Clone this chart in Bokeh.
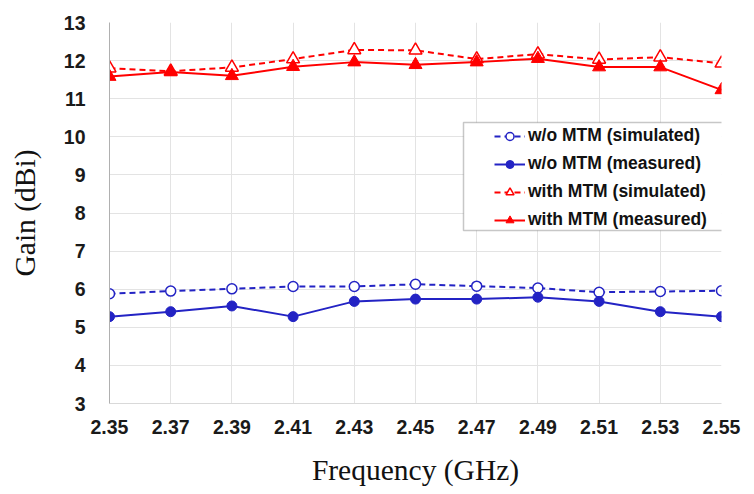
from bokeh.plotting import figure
from bokeh.models import Range1d, Legend, LegendItem, BoxAnnotation, FixedTicker
from bokeh.embed import file_html
from bokeh.resources import INLINE

freq = [2.35, 2.37, 2.39, 2.41, 2.43, 2.45, 2.47, 2.49, 2.51, 2.53, 2.55]
freq_labels = ["2.35", "2.37", "2.39", "2.41", "2.43", "2.45", "2.47", "2.49", "2.51", "2.53", "2.55"]
wo_sim = [5.88, 5.95, 6.01, 6.07, 6.07, 6.13, 6.08, 6.03, 5.92, 5.94, 5.96]
wo_meas = [5.28, 5.41, 5.56, 5.28, 5.68, 5.74, 5.74, 5.79, 5.68, 5.41, 5.28]
with_sim = [11.80, 11.72, 11.82, 12.04, 12.28, 12.27, 12.04, 12.17, 12.03, 12.09, 11.93]
with_meas = [11.58, 11.70, 11.60, 11.84, 11.96, 11.89, 11.96, 12.05, 11.83, 11.83, 11.23]
y_ticks = [3, 4, 5, 6, 7, 8, 9, 10, 11, 12, 13]

BLUE = "#2323C4"
RED = "#FF0000"

p = figure(width=754, height=494, output_backend="svg", toolbar_location=None,
           x_range=Range1d(2.35, 2.55), y_range=Range1d(3, 13))
p.min_border_left = 109
p.min_border_right = 33
p.min_border_top = 22
p.min_border_bottom = 91
p.outline_line_color = None
p.background_fill_color = "white"

p.xaxis.ticker = FixedTicker(ticks=freq)
p.xaxis.major_label_overrides = {f: l for f, l in zip(freq, freq_labels)}
p.yaxis.ticker = FixedTicker(ticks=y_ticks)

for ax in (p.xaxis[0], p.yaxis[0]):
    ax.major_tick_line_color = None
    ax.minor_tick_line_color = None
    ax.major_label_text_font = "Liberation Sans"
    ax.major_label_text_font_style = "bold"
    ax.major_label_text_font_size = "19.5px"
    ax.major_label_text_color = "#1a1a1a"
    ax.axis_label_text_font = "Liberation Serif"
    ax.axis_label_text_font_style = "normal"
    ax.axis_label_text_font_size = "29.5px"
    ax.axis_label_text_color = "#111111"

p.xaxis.axis_label = "Frequency (GHz)"
p.yaxis.axis_label = "Gain (dBi)"
p.xaxis.axis_line_color = "#d9d9d9"
p.yaxis.axis_line_color = "#b0b0b0"
p.xaxis.major_label_standoff = 10
p.yaxis.major_label_standoff = 18
p.xaxis.axis_label_standoff = 17
p.yaxis.axis_label_standoff = 20

p.xgrid.grid_line_color = "#e3e3e3"
p.ygrid.grid_line_color = "#e3e3e3"

l1 = p.line(freq, wo_sim, line_color=BLUE, line_width=2, line_dash="6 4")
m1 = p.scatter(freq, wo_sim, marker="circle", size=10, line_color=BLUE, line_width=1.5, fill_color="white")
l2 = p.line(freq, wo_meas, line_color=BLUE, line_width=2)
m2 = p.scatter(freq, wo_meas, marker="circle", size=10, line_color=BLUE, fill_color=BLUE)
l3 = p.line(freq, with_sim, line_color=RED, line_width=2, line_dash="6 4")
m3 = p.scatter(freq, with_sim, marker="triangle", size=13, line_color=RED, line_width=1.5, fill_color="white")
l4 = p.line(freq, with_meas, line_color=RED, line_width=2)
m4 = p.scatter(freq, with_meas, marker="triangle", size=13, line_color=RED, fill_color=RED)

legend = Legend(items=[
    LegendItem(label="w/o MTM (simulated)", renderers=[l1, m1]),
    LegendItem(label="w/o MTM (measured)", renderers=[l2, m2]),
    LegendItem(label="with MTM (simulated)", renderers=[l3, m3]),
    LegendItem(label="with MTM (measured)", renderers=[l4, m4]),
], location=(385, 173))
legend.label_text_font = "Liberation Sans"
legend.label_text_font_style = "bold"
legend.label_text_font_size = "17.5px"
legend.label_text_color = "#111111"
legend.padding = 5
legend.spacing = 7
legend.glyph_height = 20
legend.label_height = 20
legend.glyph_width = 31
legend.label_standoff = 3
legend.border_line_color = None
legend.background_fill_alpha = 0
legend.margin = 0
p.add_layout(legend, "center")

box = BoxAnnotation(left=463, right=733, top=122, bottom=230,
                    left_units="canvas", right_units="canvas",
                    top_units="canvas", bottom_units="canvas",
                    fill_color="white", fill_alpha=1.0,
                    line_color="#444444", line_width=1.5, level="overlay")
p.add_layout(box)

open("out.html", "w").write(file_html(p, INLINE))
